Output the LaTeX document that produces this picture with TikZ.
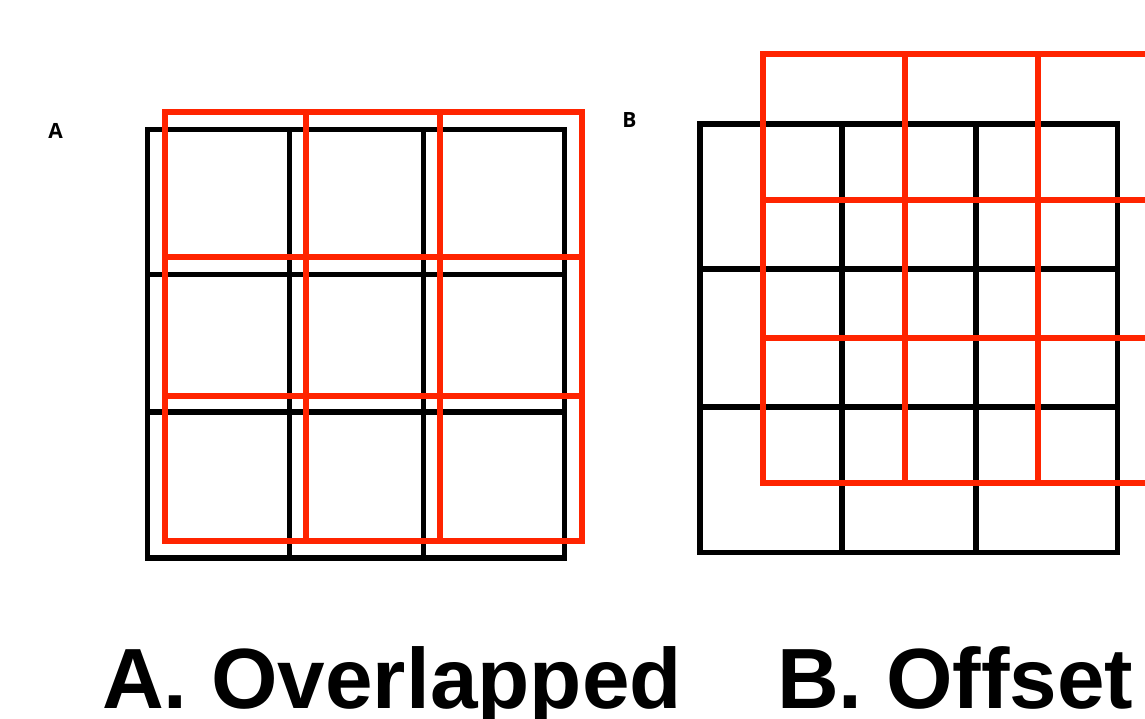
\documentclass[tikz,border=0pt]{standalone}
\usepackage{fontspec}
\setmainfont{Liberation Sans}
\newfontfamily\labelfont{Open Sans}
\definecolor{gridred}{RGB}{255,36,0}
\begin{document}
\begin{tikzpicture}[x=1pt,y=-1pt,
  blackgrid/.style={draw=black,line width=5.5pt,line join=miter},
  redgrid/.style={draw=gridred,line width=6pt,line join=miter},
  panel/.style={font=\labelfont\bfseries\fontsize{21}{24}\selectfont,inner sep=0pt},
  caption/.style={font=\bfseries\fontsize{85.5}{90}\selectfont,inner sep=0pt,anchor=base west}]
\useasboundingbox (0,0) rectangle (1145,719);
\clip (0,0) rectangle (1145,719);

% panel A: black grid
\draw[blackgrid] (147.5,129.5) rectangle (564.5,558);
\foreach \x in {289.5,423.5} \draw[blackgrid] (\x,129.5) -- (\x,558);
\foreach \y in {274.5,412} \draw[blackgrid] (147.5,\y) -- (564.5,\y);
% panel A: red grid, shifted up and right
\draw[redgrid] (164.5,112) rectangle (581.5,541);
\foreach \x in {306,440} \draw[redgrid] (\x,112) -- (\x,541);
\foreach \y in {257,395.5} \draw[redgrid] (164.5,\y) -- (581.5,\y);

% panel B: black grid
\draw[blackgrid] (700,124) rectangle (1117.5,552.5);
\foreach \x in {842,976} \draw[blackgrid] (\x,124) -- (\x,552.5);
\foreach \y in {269,407} \draw[blackgrid] (700,\y) -- (1117.5,\y);
% panel B: red grid, offset by half a cell and running off the right edge
\draw[redgrid] (1180,54) -- (763,54) -- (763,483) -- (1180,483);
\foreach \x in {905,1038} \draw[redgrid] (\x,54) -- (\x,483);
\foreach \y in {200,338} \draw[redgrid] (763,\y) -- (1180,\y);

% panel letters
\node[panel] (la) at (55.5,131) {A};
\node[panel] (lb) at (629.5,120) {B};

% captions
\node[caption] (ca) at (102,708) {A. Overlapped};
\node[caption] (cb) at (777,708) {B. Offset};
\end{tikzpicture}
\end{document}
